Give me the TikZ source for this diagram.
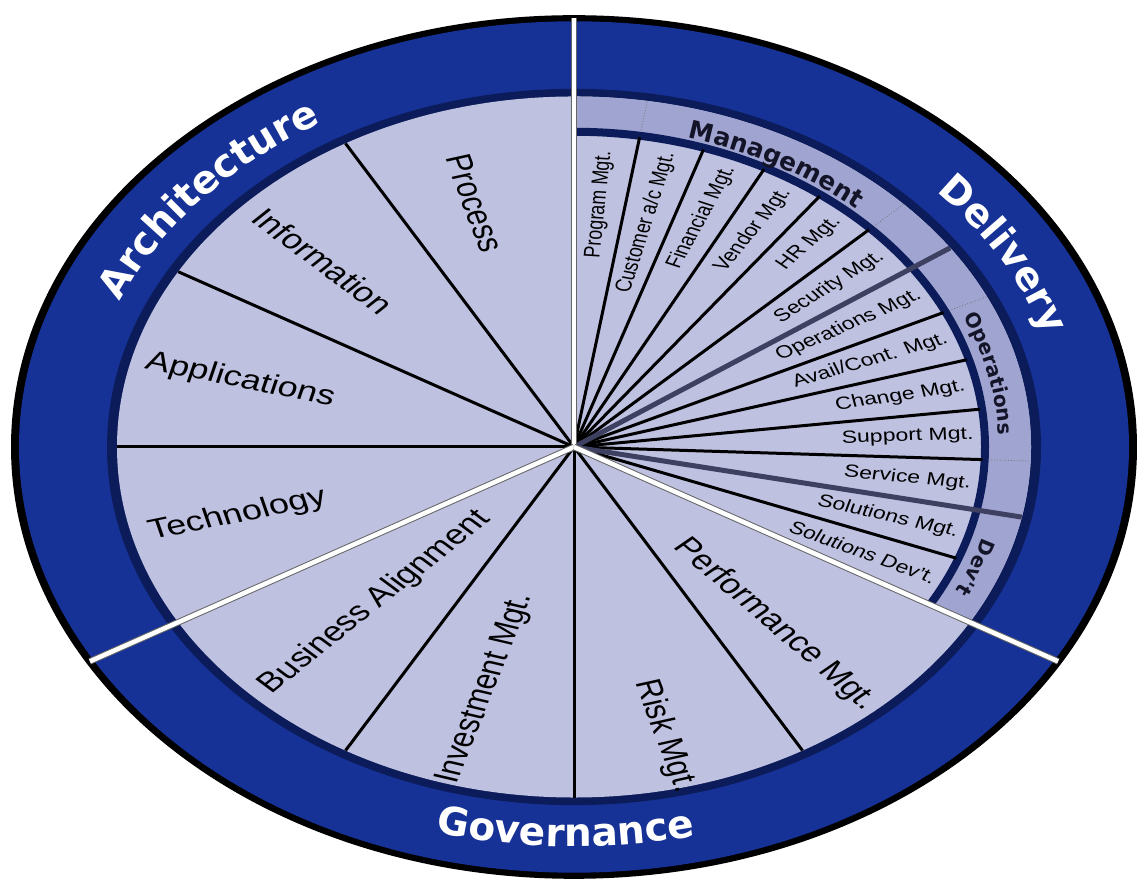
\documentclass[tikz,border=0pt]{standalone}
\usepackage{fontspec}
\setmainfont{Liberation Sans}
\newfontfamily\titlefont{DejaVu Sans}
\usetikzlibrary{decorations.text}
\definecolor{lav}{RGB}{190,193,224}
\definecolor{ringc}{RGB}{160,164,208}
\definecolor{bandblue}{RGB}{22,50,150}
\definecolor{navy}{RGB}{12,28,90}
\definecolor{slate}{RGB}{62,64,98}
\definecolor{inkdark}{RGB}{20,20,40}
\newcommand\ringtitle{\titlefont\bfseries\fontsize{39}{39}\selectfont}
\newcommand\mgmttitle{\titlefont\bfseries\fontsize{25}{25}\selectfont}
\newcommand\bandtitle{\titlefont\bfseries\fontsize{20}{20}\selectfont}
\tikzset{
  spoke/.style={black, line width=3pt},
  thickspoke/.style={slate, line width=5pt},
  sepline/.style={white, line width=4.5pt},
  sepunder/.style={black!60, line width=6.5pt},
  lab/.style={font=\fontsize{36}{36}\selectfont, inner sep=0pt, transform shape, text=black},
  dlab/.style={font=\fontsize{23}{23}\selectfont, inner sep=0pt, transform shape, anchor=east, text=black},
  ringdot/.style={black!55, line width=0.8pt, dotted},
}
\begin{document}
\begin{tikzpicture}[x=1pt,y=1pt]
\useasboundingbox (0,0) rectangle (1137,880);
\fill[white] (0,0) rectangle (1137,880);
\begin{scope}[shift={(574,433)}, yscale=0.767]
\coordinate (c) at (0,0);
% rings
\fill[black] (c) circle[radius=563pt];
\fill[bandblue] (c) circle[radius=555pt];
\fill[navy] (c) circle[radius=467pt];
\fill[lav] (c) circle[radius=457pt];
% delivery sub-ring
\fill[ringc] (90:457pt) arc[start angle=90, end angle=-30, radius=457pt] -- (-30:415pt) arc[start angle=-30, end angle=90, radius=415pt] -- cycle;
\foreach \a in {80.769,43.846,25.385,-2.308} \draw[ringdot] (\a:415pt) -- (\a:457pt);
\draw[navy, line width=8pt] (90:411pt) arc[start angle=90, end angle=-30, radius=411pt];
% spokes
\foreach \a in {120,150,180,240,270,300} \draw[spoke] (c) -- (\a:457pt);
\foreach \k in {1,2,3,4,5,7,8,9,10,12} \draw[spoke] (c) -- ({90-\k*120/13}:409pt);
\foreach \k in {6,11} \draw[thickspoke] (c) -- ({90-\k*120/13}:457pt);
% separators
\foreach \a in {90,210,330} {
  \draw[sepunder] (c) -- (\a:559pt);
  \draw[sepline] (c) -- (\a:559pt);
}
% architecture labels
\node[lab, rotate=-74] (process) at (107.3:333pt) {Process};
\node[lab, rotate=-44] (information) at (136:349pt) {Information};
\node[lab, rotate=-14.6] (applications) at (165.4:345pt) {Applications};
\node[lab, rotate=14.8] (technology) at (194.8:348pt) {Technology};
% governance labels
\node[lab, rotate=46] (business) at (225.4:284pt) {Business Alignment};
\node[lab, rotate=73] (investment) at (254.4:327pt) {Investment Mgt.};
\node[lab, rotate=-74] (risk) at (283.6:388pt) {Risk Mgt.};
\node[lab, rotate=-48] (performance) at (311:307pt) {Performance Mgt.};
% delivery labels
\node[dlab, rotate=85.385] (d1) at (85.385:387pt) {Program Mgt.};
\node[dlab, rotate=76.154] (d2) at (76.154:395pt) {Customer a/c Mgt.};
\node[dlab, rotate=66.923] (d3) at (66.923:397pt) {Financial Mgt.};
\node[dlab, rotate=57.692] (d4) at (57.692:397pt) {Vendor Mgt.};
\node[dlab, rotate=48.462] (d5) at (48.462:397pt) {HR Mgt.};
\node[dlab, rotate=39.231] (d6) at (39.231:397pt) {Security Mgt.};
\node[dlab, rotate=30.0] (d7) at (30.0:399pt) {Operations Mgt.};
\node[dlab, rotate=20.769] (d8) at (20.769:399pt) {Avail/Cont. Mgt.};
\node[dlab, rotate=11.538] (d9) at (11.538:399pt) {Change Mgt.};
\node[dlab, rotate=2.308] (d10) at (2.308:400pt) {Support Mgt.};
\node[dlab, rotate=-6.923] (d11) at (-6.923:400pt) {Service Mgt.};
\node[dlab, rotate=-16.154] (d12) at (-16.154:400pt) {Solutions Mgt.};
\node[dlab, rotate=-25.385] (d13) at (-25.385:400pt) {Solutions Dev't.};
% ring titles
\path[decorate, decoration={text along path, text align=center, text color=white,
  text={|\ringtitle|Architecture}}] (162:492pt) arc[start angle=162, end angle=117, radius=492pt];
\path[decorate, decoration={text along path, text align=center, text color=white,
  text={|\ringtitle|Delivery}}] (53:492pt) arc[start angle=53, end angle=5, radius=492pt];
\path[decorate, decoration={text along path, text align=center, text color=white,
  text={|\ringtitle|Governance}}] (244:521pt) arc[start angle=244, end angle=294, radius=521pt];
% band titles
\path[decorate, decoration={text along path, text align=center, text color=inkdark,
  text={|\mgmttitle|Management}}] (82:419pt) arc[start angle=82, end angle=39, radius=419pt];
\path[decorate, decoration={text along path, text align=center, text color=inkdark,
  text={|\bandtitle|Operations}}] (33:425pt) arc[start angle=33, end angle=-8, radius=425pt];
\path[decorate, decoration={text along path, text align=center, text color=inkdark,
  text={|\bandtitle|Dev't}}] (-12:425pt) arc[start angle=-12, end angle=-30, radius=425pt];
\end{scope}
\end{tikzpicture}
\end{document}
